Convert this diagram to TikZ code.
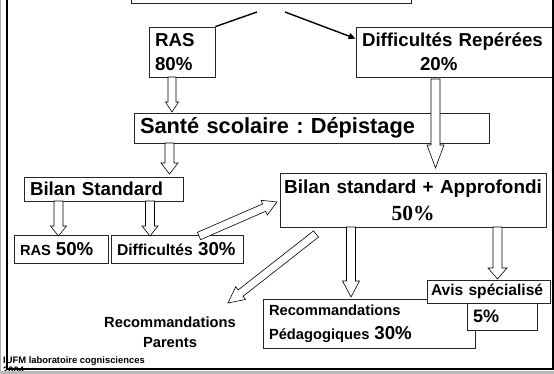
\documentclass[tikz,border=0pt]{standalone}
\usepackage{fontspec}
\setmainfont{Liberation Sans}
\newfontfamily\romanbf{Liberation Serif}
\usetikzlibrary{calc,arrows.meta}

\tikzset{
  box/.style={draw=black!85, line width=0.8pt, fill=white, inner ysep=0pt, inner xsep=6pt,
    align=left, font=\bfseries\fontsize{18.7}{24}\selectfont},
  hollow/.style={draw=black, line width=0.6pt, fill=white, line join=miter},
  plain/.style={line width=1.4pt},
}
\newcommand{\pct}{\fontsize{18.7}{24}\selectfont}
\newcommand{\hollowarrow}[5]{%
  \coordinate (neck) at ($(#2)!#5!(#1)$);
  \path[hollow] ($(#1)!#3!90:(#2)$) -- ($(neck)!#3!90:(#2)$) -- ($(neck)!#4!90:(#2)$) -- (#2)
    -- ($(neck)!#4!-90:(#2)$) -- ($(neck)!#3!-90:(#2)$) -- ($(#1)!#3!-90:(#2)$) -- cycle;}
\frenchspacing

\begin{document}
\begin{tikzpicture}[x=1pt,y=-1pt]
\useasboundingbox (0,0) rectangle (554,374);
\fill[white] (0,0) rectangle (554,374);

\node[box, minimum width=280pt, minimum height=34pt] (haut) at (271,-14) {};
\node[box, text width=54pt, minimum height=50pt] (ras) at (182,52) {RAS\\80\%};
\node[box, text width=185pt, minimum height=50pt] (diffrep) at (454.5,52) {Difficultés Repérées\\\hspace*{58pt}20\%};
\node[box, text width=343pt, minimum height=30pt, font=\bfseries\fontsize{21.8}{26}\selectfont] (sante) at (311.5,128) {Santé scolaire : Dépistage};
\node[box, text width=147pt, minimum height=24pt] (bilanstd) at (103.5,189) {Bilan Standard};
\node[box, text width=262pt, inner xsep=2pt, minimum height=54pt, align=center, font=\bfseries\fontsize{18.9}{27}\selectfont] (bilanapp) at (413,200) {Bilan standard + Approfondi\\{\romanbf\fontsize{21.5}{27}\selectfont 50\%}};
\node[box, text width=82pt, minimum height=28pt, font=\bfseries\fontsize{14.7}{18}\selectfont] (ras50) at (61,249) {RAS {\pct 50\%}};
\node[box, text width=120pt, minimum height=28pt, font=\bfseries\fontsize{15.7}{18}\selectfont] (diff30) at (177,249) {Difficultés {\pct 30\%}};
\node[box, text width=200pt, minimum height=49pt, font=\bfseries\fontsize{14.7}{24}\selectfont] (recopeda) at (369,323.5) {Recommandations\\Pédagogiques {\pct 30\%}};
\node[box, text width=115pt, inner xsep=4pt, minimum height=23pt, font=\bfseries\fontsize{15.6}{18}\selectfont] (avis) at (488.5,291.5) {Avis spécialisé};
\node[box, text width=58pt, minimum height=27pt, font=\bfseries\fontsize{18}{20}\selectfont] (cinq) at (502,316.5) {5\%};
\node[font=\bfseries\fontsize{14.7}{20}\selectfont, align=center] (recoparents) at (170,332.5) {Recommandations\\Parents};
\node[anchor=north west, inner sep=0pt, align=left, font=\bfseries\fontsize{9.4}{10}\selectfont] (iufm) at (3,356) {IUFM laboratoire cognisciences\\2004};

\coordinate (hautl) at (257,12);
\coordinate (hautr) at (285,12);
\draw[plain] (hautl) -- (ras.north east);
\draw[plain, -{Triangle[length=7pt,width=6pt]}] (hautr) -- ($(diffrep.north west)+(0,12)$);

\coordinate (ras-a) at (172,77);      \coordinate (ras-b) at (172,112);
\coordinate (diff-a) at (435.5,79);   \coordinate (diff-b) at (435.5,168);
\coordinate (sante-a) at (169.5,143); \coordinate (sante-b) at (169.5,174);
\coordinate (std-la) at (58.5,201);   \coordinate (std-lb) at (58.5,236);
\coordinate (std-ra) at (150,201);    \coordinate (std-rb) at (150,236);
\coordinate (d30-a) at (199,236);     \coordinate (d30-b) at (277,202);
\coordinate (par-a) at (316,234);     \coordinate (par-b) at (228,303);
\coordinate (ped-a) at (351,227);     \coordinate (ped-b) at (351,297);
\coordinate (avis-a) at (497.5,227);  \coordinate (avis-b) at (497.5,279);

\hollowarrow{ras-a}{ras-b}{4pt}{6.5pt}{10pt}
\hollowarrow{diff-a}{diff-b}{4.5pt}{8.5pt}{23pt}
\hollowarrow{sante-a}{sante-b}{4.5pt}{8.5pt}{11pt}
\hollowarrow{std-la}{std-lb}{4.5pt}{8pt}{10pt}
\hollowarrow{std-ra}{std-rb}{4.5pt}{8pt}{10pt}
\hollowarrow{d30-a}{d30-b}{4pt}{8pt}{14pt}
\hollowarrow{par-a}{par-b}{4pt}{8pt}{16pt}
\hollowarrow{ped-a}{ped-b}{4.5pt}{8.5pt}{16pt}
\hollowarrow{avis-a}{avis-b}{4.5pt}{9.5pt}{11pt}

\draw[line width=2pt] (7,-20) -- (7,369) -- (552.5,369) -- (552.5,-20);
\draw[gray!60, line width=1pt] (0.5,0) -- (0.5,374);
\fill[gray!55] (0,371) rectangle (554,374);
\end{tikzpicture}
\end{document}
